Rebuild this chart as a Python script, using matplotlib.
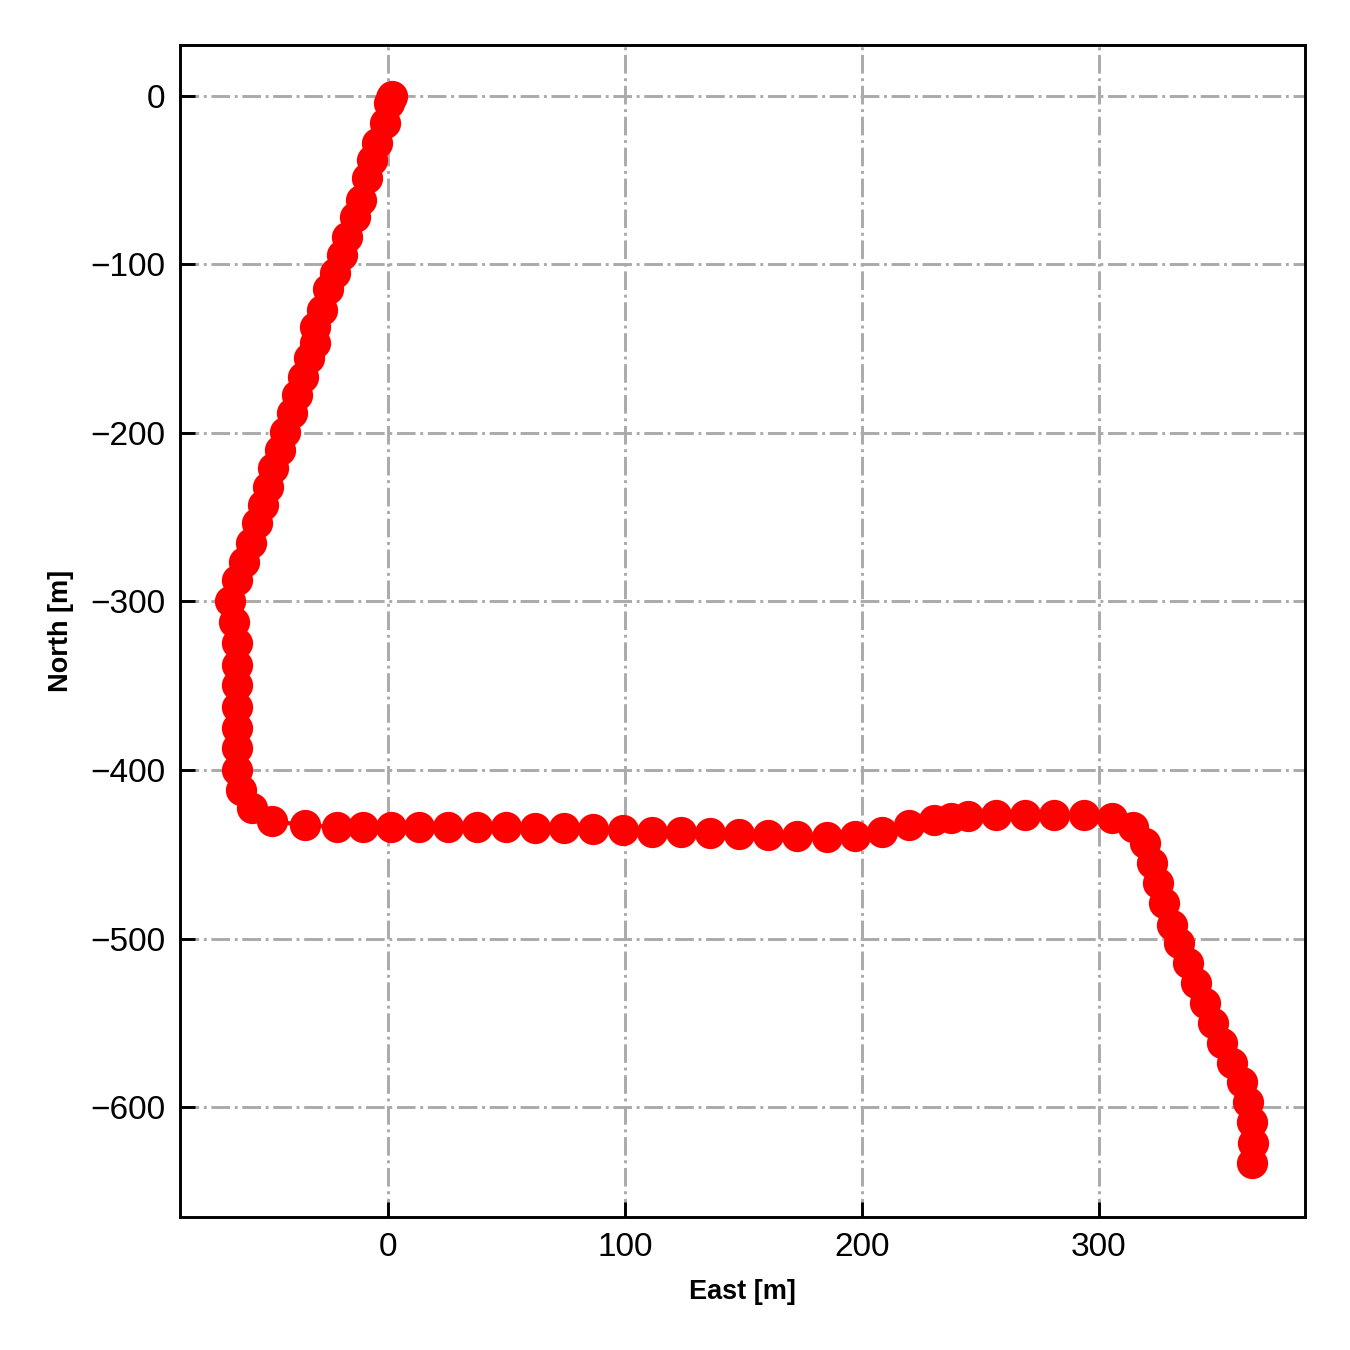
import matplotlib
matplotlib.use("Agg")
import matplotlib.pyplot as plt
import numpy as np

plt.rcParams['font.family'] = ['Liberation Sans', 'DejaVu Sans']

# trajectory (metres)
east = [1.7, 1.3, 0.4, -1.3, -4.6, -6.8, -8.9, -11.4, -13.9, -17.3, -19.4, -22.4,
        -25.3, -27.8, -30.8, -30.8, -33.3, -35.9, -38.4, -40.5, -43.5, -45.6, -48.5,
        -50.6, -52.7, -55.3, -57.8, -60.8, -63.7, -66.7, -65.0, -63.7, -63.7, -63.7,
        -63.7, -63.7, -63.7, -63.7, -62.0, -57.4, -49.0, -35.0, -21.5, -10.5, 1.3,
        13.1, 25.3, 37.6, 49.8, 62.0, 74.3, 86.5, 99.2, 111.4, 123.6, 135.9, 148.1,
        160.3, 172.6, 185.2, 197.0, 208.4, 219.8, 230.4, 237.6, 244.7, 256.5, 268.8,
        281.0, 293.7, 305.5, 314.3, 319.4, 322.4, 324.9, 327.4, 330.8, 333.8, 337.6,
        340.9, 344.7, 348.1, 351.9, 356.1, 360.3, 362.9, 364.6, 365.0, 364.6]
north = [0.0, -1.2, -4.7, -16.0, -27.9, -38.0, -48.7, -61.7, -71.8, -83.7, -94.4, -105.0,
         -115.0, -127.0, -137.0, -146.6, -155.5, -166.8, -177.4, -188.1, -199.4, -210.0,
         -220.8, -232.0, -242.7, -253.4, -265.3, -276.6, -287.2, -299.7, -312.0, -324.6,
         -337.7, -349.6, -362.6, -375.0, -387.0, -400.0, -411.9, -422.6, -430.3, -432.6,
         -433.8, -433.8, -433.8, -433.8, -433.8, -433.8, -433.8, -434.4, -434.4, -435.0,
         -435.6, -436.8, -436.8, -437.4, -438.0, -438.6, -439.2, -439.8, -439.2, -436.8,
         -432.6, -429.7, -428.5, -427.3, -426.7, -426.7, -426.7, -426.7, -428.5, -433.8,
         -443.3, -455.2, -467.0, -478.9, -492.0, -502.7, -514.5, -526.4, -538.3, -550.1,
         -562.0, -573.9, -585.2, -597.0, -608.9, -621.4, -633.2]

fig = plt.figure(figsize=(4.5, 4.5), dpi=300)
ax = fig.add_axes([0.1333, 0.0985, 0.8334, 0.8682])

ax.plot(east, north, '-o', color='red', markersize=6.5, linewidth=1)

ax.set_xlim(-87.8, 387)
ax.set_ylim(-665, 30)
ax.set_xticks([0, 100, 200, 300])
ax.set_yticks([0, -100, -200, -300, -400, -500, -600])
ax.grid(True, linestyle='-.', color='#aaaaaa', linewidth=0.7)
ax.set_axisbelow(True)
ax.tick_params(direction='in', labelsize=8, width=0.7, length=3.5)
for s in ax.spines.values():
    s.set_linewidth(0.7)

ax.set_xlabel('East [m]', fontsize=6.5, fontweight='bold')
ax.set_ylabel('North [m]', fontsize=6.5, fontweight='bold')

fig.savefig('out.png', dpi=300)
